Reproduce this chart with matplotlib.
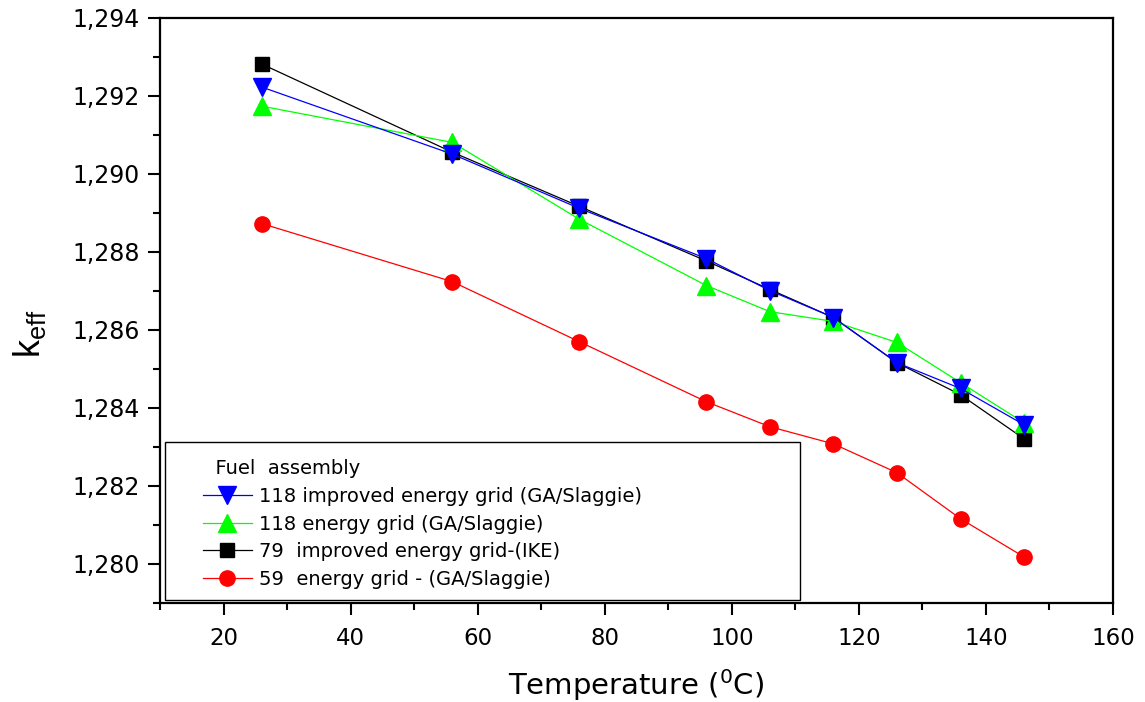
import matplotlib
matplotlib.use("Agg")
import matplotlib.pyplot as plt
from matplotlib.patches import Rectangle
from matplotlib.ticker import MultipleLocator, FuncFormatter

temperature = [26, 56, 76, 96, 106, 116, 126, 136, 146]
k_118_improved = [1.29223, 1.29051, 1.28912, 1.28783, 1.28701, 1.28632, 1.28516, 1.28450, 1.28357]
k_118 = [1.29174, 1.29081, 1.28884, 1.28714, 1.28647, 1.28622, 1.28568, 1.28465, 1.28362]
k_79_improved = [1.29282, 1.29056, 1.28917, 1.28777, 1.28704, 1.28632, 1.28516, 1.28434, 1.28321]
k_59 = [1.28873, 1.28724, 1.28570, 1.28416, 1.28352, 1.28308, 1.28234, 1.28116, 1.28018]

labels = ["118 improved energy grid (GA/Slaggie)",
          "118 energy grid (GA/Slaggie)",
          "79  improved energy grid-(IKE)",
          "59  energy grid - (GA/Slaggie)"]

plt.rcParams["font.family"] = "DejaVu Sans"

fig = plt.figure(figsize=(11.45, 7.02), dpi=100)
ax = fig.add_axes([160/1145, 1-603/702, (1113-160)/1145, (603-18)/702])

lw = 0.9
h_black, = ax.plot(temperature, k_79_improved, color="black", lw=lw, marker="s", ms=9.5, zorder=3)
h_green, = ax.plot(temperature, k_118, color="#00ff00", lw=lw, marker="^", ms=13, zorder=4)
h_blue, = ax.plot(temperature, k_118_improved, color="#0000ff", lw=lw, marker="v", ms=13, zorder=5)
h_red, = ax.plot(temperature, k_59, color="#ff0000", lw=lw, marker="o", ms=11, zorder=3)

ax.set_xlim(10, 160)
ax.set_ylim(1.279, 1.294)
ax.xaxis.set_major_locator(MultipleLocator(20))
ax.xaxis.set_minor_locator(MultipleLocator(10))
ax.yaxis.set_major_locator(MultipleLocator(0.002))
ax.yaxis.set_minor_locator(MultipleLocator(0.001))
ax.yaxis.set_major_formatter(FuncFormatter(lambda v, p: f"{v:.3f}".replace(".", ",")))

for s in ax.spines.values():
    s.set_linewidth(1.6)
ax.tick_params(which="major", direction="out", length=8.5, width=1.5)
ax.tick_params(which="minor", direction="out", length=5, width=1.5)
ax.tick_params(axis="x", which="major", labelsize=16.5, pad=9)
ax.tick_params(axis="y", which="major", labelsize=17, pad=6)

ax.set_xlabel("Temperature ($^{0}$C)", fontsize=21, labelpad=12)
ax.set_ylabel(r"k$_{\mathregular{eff}}$", fontsize=26, family="Liberation Sans")
ax.yaxis.set_label_coords(-0.118, 0.46)

# legend frame (drawn separately to match the reference's wide box)
box = Rectangle((5/953, 3/585), (800-165)/953, (600-442)/585,
                transform=ax.transAxes, facecolor="white", edgecolor="black",
                lw=1.0, zorder=2)
ax.add_patch(box)

leg = ax.legend([h_blue, h_green, h_black, h_red], labels,
                title="  Fuel  assembly", loc="upper left",
                bbox_to_anchor=(43/953, (603-459)/585),
                frameon=False, prop={"size": 14},
                title_fontproperties={"size": 14},
                handlelength=2.5, handletextpad=0.4, labelspacing=0.45,
                borderpad=0, borderaxespad=0)
leg._legend_box.align = "left"
leg.set_zorder(6)

fig.savefig("out.png", dpi=100)
